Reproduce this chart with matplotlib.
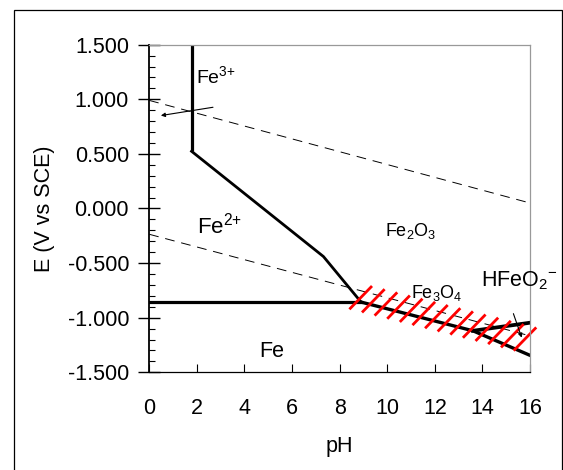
import matplotlib
matplotlib.use('Agg')
import matplotlib.pyplot as plt
from matplotlib.patches import Rectangle
from matplotlib.ticker import MultipleLocator, FormatStrFormatter

plt.rcParams['font.family'] = ['Liberation Sans', 'DejaVu Sans']
plt.rcParams['mathtext.default'] = 'regular'
plt.rcParams['axes.unicode_minus'] = False

# boundary lines (pH, E in V vs SCE)
fe3_fe2_ph = [1.78, 1.78]
fe3_fe2_e = [1.5, 0.524]
fe2_oxide_ph = [1.78, 7.32, 8.9]
fe2_oxide_e = [0.524, -0.44, -0.857]
fe_fe2_ph = [0.0, 8.9]
fe_fe2_e = [-0.857, -0.857]
fe_magnetite_ph = [8.9, 13.6, 16.0]
fe_magnetite_e = [-0.857, -1.12, -1.345]
hfeo2_ph = [13.6, 16.0]
hfeo2_e = [-1.12, -1.046]

# water stability lines
o2_ph = [0.0, 16.0]
o2_e = [0.99, 0.05]
h2_ph = [0.0, 15.8]
h2_e = [-0.236, -1.155]

# red hatch strokes across the Fe3O4 band (lower ends)
hatch_ph = [8.41, 8.94, 9.47, 10.00, 10.53, 11.06, 11.59, 12.12, 12.65, 13.18, 13.71, 14.24, 14.78, 15.31]
hatch_e = [-0.923, -0.952, -0.981, -1.010, -1.039, -1.068, -1.097, -1.126, -1.155, -1.184, -1.213, -1.242, -1.272, -1.302]

fig = plt.figure(figsize=(5.63, 4.70), dpi=100)
ax = fig.add_axes([0.265, 0.2079, 0.6765, 0.697])

# frame round the whole picture
fig.patches.append(Rectangle((13.5 / 563, -0.1), (561.5 - 13.5) / 563, 1.1 - 10.5 / 470,
                             transform=fig.transFigure, fill=False, edgecolor='black', linewidth=0.9))

thick = 2.3
ax.plot(fe3_fe2_ph, fe3_fe2_e, color='black', lw=thick, solid_capstyle='butt')
ax.plot(fe2_oxide_ph, fe2_oxide_e, color='black', lw=2.0)
ax.plot(fe_fe2_ph, fe_fe2_e, color='black', lw=thick)
ax.plot(fe_magnetite_ph, fe_magnetite_e, color='black', lw=2.4)
ax.plot(hfeo2_ph, hfeo2_e, color='black', lw=2.7)

ax.plot(o2_ph, o2_e, color='black', lw=0.7, ls=(0, (10, 7)))
ax.plot(h2_ph, h2_e, color='black', lw=0.7, ls=(0, (10, 7)))

for p, e in zip(hatch_ph, hatch_e):
    ax.plot([p, p + 0.95], [e, e + 0.213], color='red', lw=2.0, solid_capstyle='butt', clip_on=False)

ax.annotate('', xy=(0.49, 0.851), xytext=(2.68, 0.927),
            arrowprops=dict(arrowstyle='-|>', color='black', lw=0.8, mutation_scale=6, shrinkA=0, shrinkB=0))
ax.annotate('', xy=(15.65, -1.183), xytext=(15.3, -0.963),
            arrowprops=dict(arrowstyle='-|>', color='black', lw=0.8, mutation_scale=6, shrinkA=0, shrinkB=0))

ax.text(1.96, 1.152, 'Fe$^{3{+}}$', fontsize=14, va='baseline')
ax.text(2.0, -0.227, 'Fe$^{2{+}}$', fontsize=16, va='baseline')
ax.text(4.62, -1.357, 'Fe', fontsize=15.5, va='baseline')
ax.text(9.92, -0.249, 'Fe$_2$O$_3$', fontsize=13, va='baseline')
ax.text(11.0, -0.817, 'Fe$_3$O$_4$', fontsize=13, va='baseline')
ax.text(13.94, -0.716, 'HFeO$_2$$^{-}$', fontsize=15.5, va='baseline', clip_on=False)

ax.set_xlim(0, 16)
ax.set_ylim(-1.5, 1.5)
ax.xaxis.set_major_locator(MultipleLocator(2))
ax.yaxis.set_major_locator(MultipleLocator(0.5))
ax.yaxis.set_minor_locator(MultipleLocator(0.1))
ax.yaxis.set_major_formatter(FormatStrFormatter('%.3f'))

ax.tick_params(axis='y', which='major', direction='inout', length=16, width=1.0, pad=6.5, labelsize=15.5)
ax.tick_params(axis='y', which='minor', direction='in', length=4.5, width=0.8)
ax.tick_params(axis='x', which='major', direction='in', length=5.8, width=0.8, pad=18.5, labelsize=15.5)

for side in ['top', 'right']:
    ax.spines[side].set_color('#999999')
    ax.spines[side].set_linewidth(0.9)
ax.spines['left'].set_linewidth(1.3)
ax.spines['bottom'].set_linewidth(0.9)

ax.set_xlabel('pH', fontsize=15.5, labelpad=12)
ax.set_ylabel('E (V vs SCE)', fontsize=15.5, labelpad=9)

fig.savefig('out.png', dpi=100)
